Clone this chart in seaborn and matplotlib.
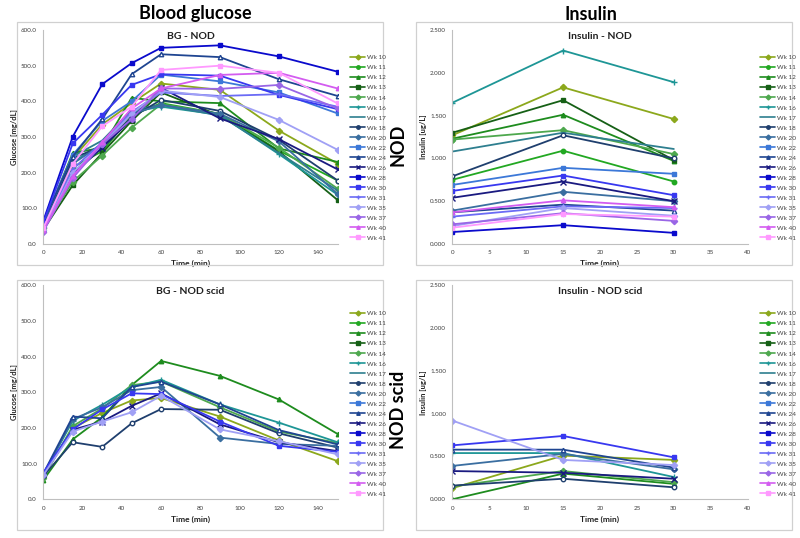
import matplotlib
matplotlib.use("Agg")
import matplotlib.pyplot as plt
from matplotlib.lines import Line2D
from matplotlib.patches import Rectangle
from matplotlib.ticker import FormatStrFormatter, MultipleLocator
import seaborn as sns
import pandas as pd

# ---- data ----
weeks = ["Wk 10", "Wk 11", "Wk 12", "Wk 13", "Wk 14", "Wk 16", "Wk 17", "Wk 18",
         "Wk 20", "Wk 22", "Wk 24", "Wk 26", "Wk 28", "Wk 30", "Wk 31", "Wk 35",
         "Wk 37", "Wk 40", "Wk 41"]
colors = ["#8ca81c", "#22a822", "#1e8c1e", "#166016", "#4ea84e", "#1e9696", "#2e7f8f",
          "#1f3f6e", "#3a6ea0", "#3c78d8", "#1f4591", "#1a1a80", "#0a0acc", "#3838f0",
          "#6b6bf5", "#a0a0f5", "#9966e6", "#d35cf0", "#ff99ff"]
markers = ["D", "o", "^", "s", "D", "+", "", "o", "D", "s", "^", "x", "s", "s",
           "+", "D", "D", "^", "s"]
open_markers = ["Wk 18", "Wk 24"]

bg_time = [0, 15, 30, 45, 60, 90, 120, 150]
ins_time = [0, 15, 30]

bg_nod = [
    [45, 240, 335, 395, 450, 432, 318, 225],
    [50, 215, 260, 360, 395, 365, 262, 178],
    [55, 255, 270, 410, 400, 395, 268, 230],
    [40, 165, 255, 345, 425, 360, 260, 123],
    [45, 175, 248, 326, 392, 365, 270, 155],
    [50, 230, 280, 370, 385, 362, 252, 138],
    [55, 245, 290, 375, 390, 360, 255, 150],
    [50, 240, 275, 355, 404, 373, 292, 178],
    [48, 225, 280, 365, 390, 365, 288, 140],
    [60, 250, 345, 400, 475, 456, 425, 366],
    [62, 245, 350, 476, 532, 524, 462, 415],
    [45, 195, 270, 350, 438, 352, 294, 209],
    [65, 301, 448, 507, 550, 557, 526, 483],
    [60, 282, 362, 446, 476, 472, 418, 378],
    [45, 210, 285, 370, 425, 415, 420, 385],
    [40, 200, 280, 365, 430, 412, 348, 264],
    [35, 185, 280, 350, 436, 435, 446, 380],
    [40, 190, 285, 380, 436, 474, 480, 436],
    [45, 225, 330, 385, 488, 500, 480, 394],
]

ins_nod = [
    [1.27, 1.83, 1.46], [0.75, 1.09, 0.73], [1.23, 1.51, 0.97], [1.30, 1.68, 0.98],
    [1.22, 1.33, 1.05], [1.65, 2.26, 1.89], [1.08, 1.30, 1.11], [0.79, 1.27, 1.00],
    [0.39, 0.61, 0.50], [0.69, 0.89, 0.82], [0.37, 0.46, 0.39], [0.54, 0.73, 0.50],
    [0.14, 0.22, 0.13], [0.62, 0.80, 0.57], [0.32, 0.44, 0.42], [0.21, 0.42, 0.33],
    [0.23, 0.36, 0.27], [0.37, 0.51, 0.43], [0.19, 0.35, 0.32],
]

scid_weeks = ["Wk 10", "Wk 12", "Wk 14", "Wk 16", "Wk 18", "Wk 20", "Wk 24",
              "Wk 26", "Wk 30", "Wk 35"]

bg_scid = [
    [65, 200, 242, 277, 284, 232, 165, 107],
    [54, 168, 230, 320, 388, 346, 280, 183],
    [60, 205, 255, 320, 330, 258, 190, 158],
    [70, 220, 265, 315, 335, 266, 215, 160],
    [65, 160, 147, 213, 253, 251, 185, 145],
    [68, 225, 258, 306, 315, 173, 155, 150],
    [72, 232, 227, 315, 330, 266, 194, 154],
    [70, 195, 218, 262, 297, 210, 160, 135],
    [75, 196, 252, 297, 295, 218, 150, 133],
    [68, 190, 218, 244, 290, 196, 163, 126],
]

ins_scid = [
    [0.13, 0.51, 0.46], [0.00, 0.30, 0.18], [0.15, 0.33, 0.20], [0.54, 0.54, 0.26],
    [0.16, 0.24, 0.14], [0.39, 0.53, 0.35], [0.58, 0.58, 0.37], [0.33, 0.31, 0.24],
    [0.63, 0.74, 0.49], [0.92, 0.46, 0.40],
]

sns.set_theme(style="white")
plt.rcParams["font.family"] = ["Lato", "DejaVu Sans"]

W, H = 800, 538
fig = plt.figure(figsize=(W / 100, H / 100), dpi=100)

TXT = "#404040"
GRID = "#bfbfbf"


def px_axes(x0, x1, y0, y1):
    """Axes from a pixel box (left, right, top, bottom)."""
    return fig.add_axes([x0 / W, (H - y1) / H, (x1 - x0) / W, (y1 - y0) / H])


def box(x0, x1, y0, y1):
    fig.patches.append(Rectangle((x0 / W, (H - y1) / H), (x1 - x0) / W, (y1 - y0) / H,
                                 transform=fig.transFigure, fill=False,
                                 edgecolor="#d0d0d0", linewidth=0.9))


def style_of(wk):
    i = weeks.index(wk)
    face = "white" if wk in open_markers else colors[i]
    return colors[i], markers[i], face


def draw_panel(ax, time, wk_list, values, title, ylabel, ymax, ystep, yfmt,
               xmax, xstep, legend_xy):
    rows = []
    for wk, vals in zip(wk_list, values):
        for t, v in zip(time, vals):
            rows.append({"week": wk, "time": t, "value": v})
    df = pd.DataFrame(rows)
    for wk in wk_list:
        c, m, face = style_of(wk)
        ms = 4.2 if m in ("+", "x") else 3.2
        sns.lineplot(data=df[df["week"] == wk], x="time", y="value", ax=ax,
                     color=c, marker=m if m else None, markersize=ms,
                     markeredgecolor=c, markerfacecolor=face,
                     markeredgewidth=1.0, linewidth=1.3, legend=False)
    ax.set_xlim(0, xmax)
    ax.set_ylim(0, ymax)
    ax.xaxis.set_major_locator(MultipleLocator(xstep))
    ax.yaxis.set_major_locator(MultipleLocator(ystep))
    ax.yaxis.set_major_formatter(FormatStrFormatter(yfmt))
    ax.tick_params(axis="both", labelsize=4.5, colors=TXT, length=2.5, width=0.6,
                   direction="out", pad=2)
    ax.tick_params(axis="y", left=False)
    for s in ("top", "right"):
        ax.spines[s].set_visible(False)
    for s in ("left", "bottom"):
        ax.spines[s].set_color(GRID)
        ax.spines[s].set_linewidth(0.8)
    ax.set_xlabel("Time (min)", fontsize=6, fontweight="bold", color="#202020")
    ax.set_ylabel(ylabel, fontsize=5.5, fontweight="bold", color="#202020")
    ax.xaxis.set_label_coords(0.5, -0.075)
    ax.yaxis.set_label_coords(-0.085, 0.5)
    ax.text(0.5, 0.99, title, transform=ax.transAxes, ha="center", va="top",
            fontsize=7.5, fontweight="bold", color="#202020")
    handles = []
    for wk in weeks:
        c, m, face = style_of(wk)
        ms = 3.2 if m in ("+", "x") else 2.5
        handles.append(Line2D([], [], color=c, marker=m if m else None,
                              markersize=ms, markeredgecolor=c, markerfacecolor=c,
                              linewidth=1.2, label=wk))
    fig.legend(handles=handles, loc="upper left",
               bbox_to_anchor=(legend_xy[0] / W, (H - legend_xy[1]) / H),
               frameon=False, fontsize=4.6, handlelength=2.4, handletextpad=0.3,
               labelspacing=0.71, borderpad=0, borderaxespad=0, labelcolor=TXT)


# outer boxes
box(17, 383, 22, 265)
box(416, 792, 22, 265)
box(17, 383, 280, 530)
box(416, 792, 280, 530)

ax1 = px_axes(43.3, 337.7, 30, 244)
draw_panel(ax1, bg_time, weeks, bg_nod, "BG - NOD", "Glucose [mg/dL]",
           600, 100, "%.1f", 150, 20, (350, 55))
ax2 = px_axes(452.3, 747.7, 30, 244)
draw_panel(ax2, ins_time, weeks, ins_nod, "Insulin - NOD", "Insulin [ug/L]",
           2.5, 0.5, "%.3f", 40, 5, (760, 55))
ax3 = px_axes(43.3, 337.7, 285.3, 499.3)
draw_panel(ax3, bg_time, scid_weeks, bg_scid, "BG - NOD scid", "Glucose [mg/dL]",
           600, 100, "%.1f", 150, 20, (350, 311))
ax4 = px_axes(452.3, 747.7, 285.3, 499.3)
draw_panel(ax4, ins_time, scid_weeks, ins_scid, "Insulin - NOD scid", "Insulin [ug/L]",
           2.5, 0.5, "%.3f", 40, 5, (760, 311))

# column and row headings
fig.text(195 / W, 1 - 14 / H, "Blood glucose", ha="center", va="center",
         fontsize=13, fontweight="bold", color="black")
fig.text(591 / W, 1 - 15 / H, "Insulin", ha="center", va="center",
         fontsize=13, fontweight="bold", color="black")
fig.text(398 / W, 1 - 145 / H, "NOD", ha="center", va="center", rotation=90,
         fontsize=13, fontweight="bold", color="black")
fig.text(398 / W, 1 - 410 / H, "NOD scid", ha="center", va="center", rotation=90,
         fontsize=13, fontweight="bold", color="black")

fig.savefig("out.png", dpi=100)
